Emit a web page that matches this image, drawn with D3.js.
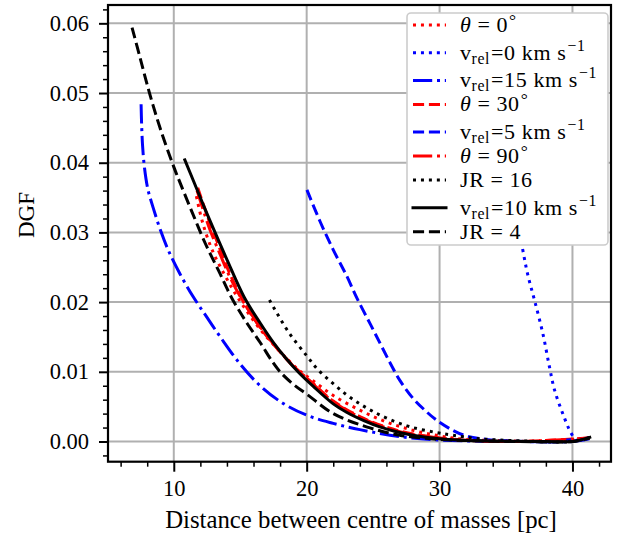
<!DOCTYPE html>
<html><head><meta charset="utf-8">
<script src="https://cdn.jsdelivr.net/npm/d3@7"></script>
<style>body{margin:0;background:#fff} svg text{font-family:"Liberation Serif", serif}</style>
</head><body>
<svg id="c" width="632" height="538"></svg>
<script>
// ---------- data ----------
const xTicks = [10, 20, 30, 40];
const xTickLabels = ["10", "20", "30", "40"];
const yTicks = [0, 0.01, 0.02, 0.03, 0.04, 0.05, 0.06];
const yTickLabels = ["0.00", "0.01", "0.02", "0.03", "0.04", "0.05", "0.06"];
const xLabel = "Distance between centre of masses [pc]";
const yLabel = "DGF";

const legendLabels = ["θ = 0°", "v_rel=0 km s^−1", "v_rel=15 km s^−1", "θ = 30°",
  "v_rel=5 km s^−1", "θ = 90°", "JR = 16", "v_rel=10 km s^−1", "JR = 4"];

const theta0 = [[11.7,0.0352],[12.2,0.0312],[12.95,0.0272],[13.8,0.0240],[14.6,0.0213],[15.5,0.0187],[16.5,0.0161],[17.5,0.0139],[18.5,0.0119],[19.5,0.0101],[20.5,0.0087],[22.0,0.0066],[24.0,0.0045],[26.0,0.0028],[28.0,0.0016],[30.0,0.0008],[32.0,0.0003],[35.0,0.0001],[38.0,0.0],[41.3,0.0005]];
const vrel0 = [[35.2,0.0400],[35.7,0.0335],[36.26,0.0275],[36.64,0.0239],[37.14,0.0203],[37.77,0.0155],[38.27,0.0107],[38.65,0.0074],[39.27,0.0040],[39.9,0.0012],[40.3,0.0002],[41.3,0.0005]];
const vrel15 = [[7.54,0.0484],[7.58,0.0455],[7.65,0.0425],[7.8,0.0392],[8.05,0.0362],[8.44,0.0336],[9.0,0.0303],[9.62,0.0273],[10.45,0.0241],[11.45,0.0208],[12.5,0.0178],[13.5,0.0150],[15.0,0.0111],[16.5,0.0080],[18.2,0.0055],[20.1,0.0037],[22.0,0.0026],[24.0,0.0017],[27.0,0.0007],[30.0,0.0002],[33.0,0.00005],[36.0,0.0],[40.0,0.0],[41.3,0.0004]];
const theta30 = [[11.8,0.0364],[12.5,0.0325],[13.3,0.0285],[14.1,0.0246],[14.9,0.0213],[15.8,0.0183],[16.8,0.0156],[17.8,0.0133],[18.7,0.0114],[19.5,0.0099],[20.5,0.0083],[22.0,0.0058],[24.3,0.0033],[27.0,0.0015],[30.0,0.0005],[33.0,0.0001],[36.0,0.0],[41.3,0.0005]];
const vrel5 = [[20.02,0.0361],[21.0,0.0316],[22.0,0.0275],[23.0,0.0238],[23.8,0.0205],[24.8,0.0168],[25.6,0.0138],[26.3,0.0112],[27.0,0.0088],[28.0,0.0062],[29.0,0.0043],[29.75,0.0031],[31.0,0.0016],[32.0,0.0008],[33.5,0.0003],[35.0,0.0001],[38.0,0.0],[41.3,0.0005]];
const theta90 = [[11.75,0.0360],[12.7,0.0305],[13.5,0.0268],[14.2,0.0237],[15.0,0.0208],[16.0,0.0178],[17.0,0.0152],[18.0,0.0129],[19.0,0.0108],[19.6,0.0098],[20.5,0.0082],[22.0,0.0057],[24.3,0.0032],[27.0,0.0014],[30.0,0.0005],[33.0,0.0001],[36.0,0.0],[41.3,0.0005]];
const jr16 = [[17.2,0.0203],[18.6,0.0158],[20.0,0.0123],[20.9,0.0102],[22.0,0.0083],[23.0,0.0067],[24.0,0.0054],[25.0,0.0043],[26.2,0.0032],[27.8,0.0021],[29.7,0.0013],[31.0,0.0009],[33.0,0.0004],[36.0,0.0001],[40.0,0.0],[41.3,0.0006]];
const vrel10 = [[10.83,0.0404],[11.5,0.0373],[12.3,0.0336],[13.08,0.0301],[14.0,0.0261],[15.3,0.0207],[16.5,0.0170],[17.5,0.0142],[18.5,0.0118],[19.4,0.0099],[20.5,0.0079],[22.0,0.0054],[23.0,0.0042],[24.3,0.0030],[25.5,0.0021],[27.0,0.0013],[28.0,0.0009],[30.0,0.0004],[32.0,0.00015],[35.0,0.00002],[38.0,0.0],[40.0,0.0],[41.3,0.0006]];
const jr4 = [[6.86,0.0594],[7.5,0.0548],[8.2,0.0498],[9.0,0.0448],[10.0,0.0394],[10.5,0.0370],[11.4,0.0328],[12.4,0.0283],[13.4,0.0244],[14.36,0.0206],[15.5,0.0170],[16.5,0.0142],[17.4,0.0115],[18.0,0.0100],[19.0,0.0082],[20.0,0.0068],[22.0,0.0040],[24.5,0.0021],[27.0,0.0009],[30.0,0.0003],[33.0,0.0001],[36.0,0.0],[40.0,0.0],[41.3,0.0005]];

const seriesData = [theta0, vrel0, vrel15, theta30, vrel5, theta90, jr16, vrel10, jr4];

// ---------- styles ----------
const SERIF = '"Liberation Serif"';
const LW = 3;
const DASH = {
  dotted: [1*LW, 1.65*LW],
  dashed: [3.7*LW, 1.6*LW],
  dashdot: [6.4*LW, 1.6*LW, 1*LW, 1.6*LW],
  solid: null
};
const styles = [
  {c:"#ff0000", d:"dotted"}, {c:"#0000ff", d:"dotted"}, {c:"#0000ff", d:"dashdot"},
  {c:"#ff0000", d:"dashed"}, {c:"#0000ff", d:"dashed"}, {c:"#ff0000", d:"dashdot"},
  {c:"#000000", d:"dotted"}, {c:"#000000", d:"solid"}, {c:"#000000", d:"dashed"}
];

// ---------- layout ----------
const svg = d3.select("#c");
const m = {l:108, t:5, r:611, b:461.7};
const x = d3.scaleLinear().domain([5.05, 42.9]).range([m.l, m.r]);
const y = d3.scaleLinear().domain([-0.0029, 0.06263]).range([m.b, m.t]);

const FS = 22.5;

// grid
const g = svg.append("g");
g.selectAll(".gx").data(xTicks).join("line")
  .attr("x1", d=>x(d)).attr("x2", d=>x(d)).attr("y1", m.t).attr("y2", m.b)
  .attr("stroke", "#b0b0b0").attr("stroke-width", 2);
g.selectAll(".gy").data(yTicks).join("line")
  .attr("y1", d=>y(d)).attr("y2", d=>y(d)).attr("x1", m.l).attr("x2", m.r)
  .attr("stroke", "#b0b0b0").attr("stroke-width", 2);

// lines
svg.append("clipPath").attr("id","clp").append("rect")
  .attr("x", m.l).attr("y", m.t).attr("width", m.r-m.l).attr("height", m.b-m.t);
const line = d3.line().x(d=>x(d[0])).y(d=>y(d[1])).curve(d3.curveCatmullRom.alpha(0.5));
const lg = svg.append("g").attr("clip-path","url(#clp)");
seriesData.forEach((s,i)=>{
  const st = styles[i];
  lg.append("path").attr("d", line(s)).attr("fill","none")
    .attr("stroke", st.c).attr("stroke-width", LW)
    .attr("stroke-dasharray", DASH[st.d] ? DASH[st.d].join(",") : null)
    .attr("stroke-linecap", st.d==="solid" ? "square" : "butt")
    .attr("stroke-linejoin","round");
});

// axes
const xAxis = d3.axisBottom(x).tickValues(xTicks).tickFormat((d,i)=>xTickLabels[i]).tickSize(10).tickPadding(8);
const xMinor = d3.axisBottom(x).tickValues(d3.range(6, 43, 2).filter(v=>v%10!==0)).tickFormat("").tickSize(5);
const yAxis = d3.axisLeft(y).tickValues(yTicks).tickFormat((d,i)=>yTickLabels[i]).tickSize(9).tickPadding(10);
const yMinor = d3.axisLeft(y).tickValues(d3.range(-2, 63, 2).filter(v=>v%10!==0).map(v=>v/1000)).tickFormat("").tickSize(5);

function styleAxis(sel, w){
  sel.attr("font-family", null).attr("font-size", null);
  sel.select(".domain").remove();
  sel.selectAll(".tick line").attr("stroke","#000").attr("stroke-width", w);
  sel.selectAll(".tick text").style("font-size", FS+"px").style("font-family", SERIF).attr("fill","#000");
}
svg.append("g").attr("transform",`translate(0,${m.b})`).call(xMinor).call(s=>styleAxis(s,1.5));
svg.append("g").attr("transform",`translate(0,${m.b})`).call(xAxis).call(s=>styleAxis(s,2));
svg.append("g").attr("transform",`translate(${m.l},0)`).call(yMinor).call(s=>styleAxis(s,1.5));
svg.append("g").attr("transform",`translate(${m.l},0)`).call(yAxis).call(s=>styleAxis(s,2));

// frame
svg.append("rect").attr("x", m.l).attr("y", m.t).attr("width", m.r-m.l).attr("height", m.b-m.t)
  .attr("fill","none").attr("stroke","#000").attr("stroke-width",2.2);

// axis labels
const xl = svg.append("text").attr("x", 361).attr("y", 528).attr("text-anchor","middle")
  .style("font-family", SERIF).style("font-size","23px").text(xLabel);
svg.append("text").attr("transform","translate(34,215) rotate(-90)").attr("text-anchor","middle")
  .style("font-family", SERIF).style("font-size","23px").text(yLabel);

// legend
const L = {x:407, y:13, w:201, h:232};
const leg = svg.append("g");
leg.append("rect").attr("x", L.x).attr("y", L.y).attr("width", L.w).attr("height", L.h)
  .attr("rx", 4).attr("fill","#fff").attr("stroke","#cccccc").attr("stroke-width",1.6);

const LFS = 22;
let rowY = 25;
legendLabels.forEach((lab,i)=>{
  if (i>0) rowY += 24 + (lab.startsWith("v_") ? 3.7 : 0);
  const st = styles[i];
  leg.append("line").attr("x1", 413).attr("x2", 446).attr("y1", rowY).attr("y2", rowY)
    .attr("stroke", st.c).attr("stroke-width", LW)
    .attr("stroke-dasharray", DASH[st.d] ? DASH[st.d].join(",") : null)
    .attr("stroke-linecap", st.d==="solid" ? "square" : "butt");
  const t = leg.append("text").attr("x", 460).attr("y", rowY+7)
    .style("font-family", SERIF).style("font-size", LFS+"px").style("letter-spacing","0.6px");
  if (lab.startsWith("v_")) {
    const m1 = lab.match(/^v_(\w+)(.*?)\^(.*)$/);
    t.append("tspan").text("v");
    t.append("tspan").style("font-size", (LFS*0.72)+"px").attr("dy", 4).text(m1[1]);
    t.append("tspan").attr("dy", -4).attr("dx", 1).text(m1[2]);
    t.append("tspan").style("font-size", (LFS*0.72)+"px").attr("dy", -9).attr("dx", 1).text(m1[3]);
  } else if (lab.startsWith("θ")) {
    const m2 = lab.match(/^θ = (\d+)°$/);
    t.append("tspan").style("font-style","italic").text("θ");
    t.append("tspan").attr("dx", 6).text("=");
    t.append("tspan").attr("dx", 6).text(m2[1]);
    t.append("tspan").style("font-size", (LFS*0.8)+"px").attr("dy", -6).attr("dx", 1).text("°");
  } else {
    const m3 = lab.match(/^(\S+) = (\S+)$/);
    t.append("tspan").text(m3[1]);
    t.append("tspan").attr("dx", 6).text("=");
    t.append("tspan").attr("dx", 6).text(m3[2]);
  }
});

// force text layout and fit x-label width to the reference
svg.selectAll("text").each(function(){ this.getComputedTextLength(); });
const w = xl.node().getComputedTextLength();
if (w > 0) xl.style("font-size", (23*392/w).toFixed(2)+"px");
</script>
</body></html>
